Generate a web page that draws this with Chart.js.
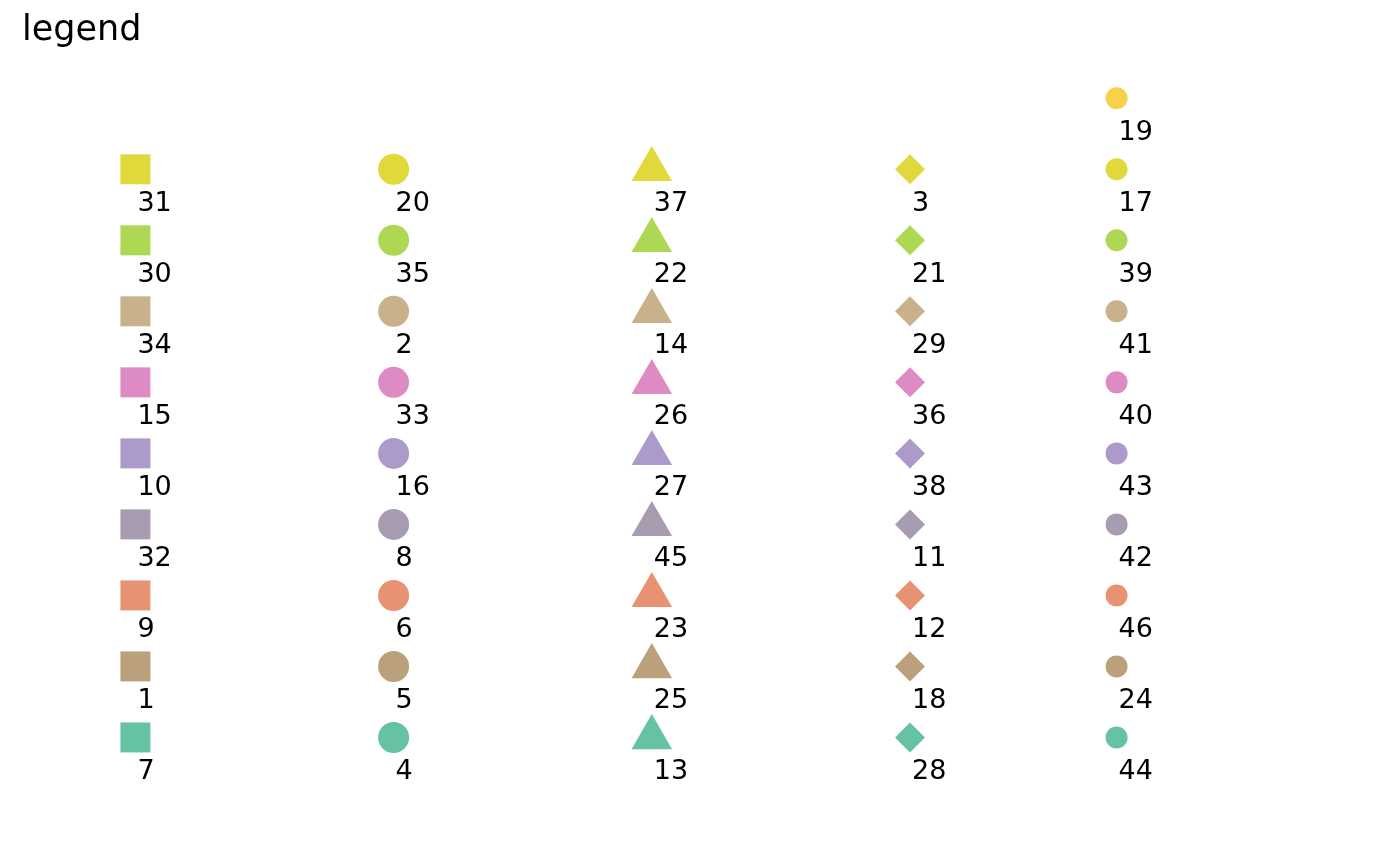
<!DOCTYPE html>
<html>
<head>
<meta charset="utf-8">
<script src="https://cdn.jsdelivr.net/npm/chart.js@4.4.1/dist/chart.umd.min.js"></script>
<style>
  html, body { margin: 0; padding: 0; background: #ffffff; }
  #wrap { width: 1400px; height: 866px; position: relative; }
</style>
</head>
<body>
<div id="wrap"><canvas id="c"></canvas></div>
<script>
// ---- data ----
const titleText = "legend";
const columnX = [1, 2, 3, 4, 4.8];
const squareLabels   = ["31","30","34","15","10","32","9","1","7"];
const circleLabels   = ["20","35","2","33","16","8","6","5","4"];
const triangleLabels = ["37","22","14","26","27","45","23","25","13"];
const diamondLabels  = ["3","21","29","36","38","11","12","18","28"];
const dotLabels      = ["19","17","39","41","40","43","42","46","24","44"];
const rowsMain = [1, 2, 3, 4, 5, 6, 7, 8, 9];
const rowsDot  = [0, 1, 2, 3, 4, 5, 6, 7, 8, 9];
const rowColors = ["#F8D04A","#E1D83C","#AED853","#C8B18B","#DE8BC4","#AC9ACB","#A89CB0","#E89274","#BBA07C","#66C2A5"];

function pts(x, rows) { return rows.map(r => ({ x: x, y: r })); }
function cols(rows) { return rows.map(r => rowColors[r]); }

const datasets = [
  { labelsText: squareLabels,   data: pts(columnX[0], rowsMain), backgroundColor: cols(rowsMain), pointStyle: 'rect',    pointRadius: 21.2 },
  { labelsText: circleLabels,   data: pts(columnX[1], rowsMain), backgroundColor: cols(rowsMain), pointStyle: 'circle',  pointRadius: 15.5 },
  { labelsText: triangleLabels, data: pts(columnX[2], rowsMain), backgroundColor: cols(rowsMain), pointStyle: 'triangle',pointRadius: 23.4 },
  { labelsText: diamondLabels,  data: pts(columnX[3], rowsMain), backgroundColor: cols(rowsMain), pointStyle: 'rectRot', pointRadius: 15 },
  { labelsText: dotLabels,      data: pts(columnX[4], rowsDot),  backgroundColor: cols(rowsDot),  pointStyle: 'circle',  pointRadius: 11 }
].map(d => Object.assign(d, { borderWidth: 0, pointBorderWidth: 0, pointHoverRadius: d.pointRadius, showLine: false }));

const labelPlugin = {
  id: 'pointLabels',
  afterDatasetsDraw(chart) {
    const ctx = chart.ctx;
    ctx.save();
    ctx.font = '27px "DejaVu Sans"';
    ctx.fillStyle = '#000000';
    ctx.textAlign = 'left';
    ctx.textBaseline = 'middle';
    chart.data.datasets.forEach((ds, di) => {
      const meta = chart.getDatasetMeta(di);
      meta.data.forEach((el, i) => {
        ctx.fillText(ds.labelsText[i], el.x + 2, el.y + 35);
      });
    });
    ctx.restore();
  }
};

new Chart(document.getElementById('c'), {
  type: 'scatter',
  data: { datasets },
  plugins: [labelPlugin],
  options: {
    responsive: true,
    maintainAspectRatio: false,
    animation: false,
    events: [],
    layout: { autoPadding: false, padding: { left: 22, right: 0, top: 0, bottom: 0 } },
    plugins: {
      legend: { display: false },
      tooltip: { enabled: false },
      title: {
        display: true,
        text: titleText,
        align: 'start',
        color: '#000000',
        font: { family: 'DejaVu Sans', size: 35, weight: 'normal', lineHeight: 1.2 },
        padding: { top: 10, bottom: 8 }
      }
    },
    scales: {
      x: { type: 'linear', display: false, min: 0.5608, max: 5.8977 },
      y: { type: 'linear', display: false, reverse: true, min: -0.539, max: 10.810 }
    }
  }
});
</script>
</body>
</html>
